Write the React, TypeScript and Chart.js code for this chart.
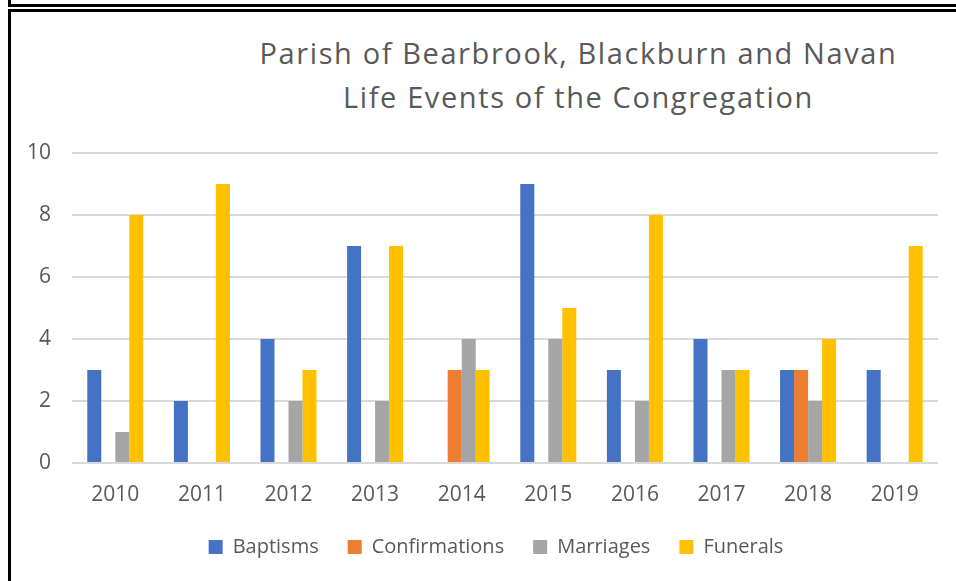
import React, { useEffect, useRef } from "react";
import { Chart, registerables } from "chart.js";

Chart.register(...registerables);

const categories = ["2010", "2011", "2012", "2013", "2014", "2015", "2016", "2017", "2018", "2019"];
const baptisms = [3, 2, 4, 7, null, 9, 3, 4, 3, 3];
const confirmations = [null, null, null, null, 3, null, null, null, 3, null];
const marriages = [1, null, 2, 2, 4, 4, 2, 3, 2, null];
const funerals = [8, 9, 3, 7, 3, 5, 8, 3, 4, 7];
const seriesNames = ["Baptisms", "Confirmations", "Marriages", "Funerals"];
const seriesColors = ["#4472C4", "#ED7D31", "#A5A5A5", "#FFC000"];
const titleLines = ["Parish of Bearbrook, Blackburn and Navan", "Life Events of the Congregation"];
const yMin = 0;
const yMax = 10;
const yStep = 2;

const TEXT = "#595959";
const FONT = "'Open Sans', 'DejaVu Sans', sans-serif";

const legendShift = {
  id: "legendShift",
  afterLayout(chart: any) {
    const l = chart.legend;
    if (l) {
      l.left += 27;
      l.right += 27;
    }
  },
};

export default function App() {
  const canvasRef = useRef<HTMLCanvasElement | null>(null);

  useEffect(() => {
    if (!canvasRef.current) return;
    const values = [baptisms, confirmations, marriages, funerals];
    const chart = new Chart(canvasRef.current, {
      type: "bar",
      data: {
        labels: categories,
        datasets: seriesNames.map((name, i) => ({
          label: name,
          data: values[i],
          backgroundColor: seriesColors[i],
          borderWidth: 0,
          categoryPercentage: 0.647,
          barPercentage: 1,
        })),
      },
      plugins: [legendShift],
      options: {
        responsive: false,
        animation: false,
        events: [],
        layout: { padding: { left: 0, right: 18, top: 153, bottom: 14 } },
        plugins: {
          title: { display: false },
          tooltip: { enabled: false },
          legend: {
            position: "bottom",
            labels: {
              boxWidth: 14,
              boxHeight: 14,
              padding: 29,
              color: TEXT,
              font: { family: FONT, size: 20 },
            },
          },
        },
        scales: {
          x: {
            grid: { display: false, drawTicks: false },
            border: { display: false },
            ticks: { color: TEXT, font: { family: FONT, size: 21 }, padding: 19, maxRotation: 0 },
            afterFit: (s: any) => {
              s.height = 45;
            },
          },
          y: {
            min: yMin,
            max: yMax,
            ticks: { stepSize: yStep, color: TEXT, font: { family: FONT, size: 21 }, padding: 21 },
            grid: { color: "#D9D9D9", lineWidth: 2, drawTicks: false },
            border: { display: false },
            afterFit: (s: any) => {
              s.width = 72;
            },
          },
        },
      },
    });
    return () => chart.destroy();
  }, []);

  return (
    <div
      style={{
        position: "fixed",
        left: 0,
        top: 0,
        width: 956,
        height: 581,
        background: "#fff",
        overflow: "hidden",
      }}
    >
      <div
        style={{
          position: "absolute",
          left: 8,
          top: -10,
          width: 1000,
          height: 17,
          boxSizing: "border-box",
          border: "3px solid #000",
        }}
      />
      <div
        style={{
          position: "absolute",
          left: 8,
          top: 9,
          width: 1000,
          height: 700,
          boxSizing: "border-box",
          border: "3px solid #000",
        }}
      />
      <div
        style={{
          position: "absolute",
          left: 200,
          top: 31,
          width: 757,
          textAlign: "center",
          fontFamily: FONT,
          fontSize: 29,
          letterSpacing: "1.6px",
          lineHeight: "44px",
          color: TEXT,
          whiteSpace: "nowrap",
        }}
      >
        {titleLines.map((t) => (
          <div key={t}>{t}</div>
        ))}
      </div>
      <canvas
        ref={canvasRef}
        width={956}
        height={581}
        style={{ position: "absolute", left: 0, top: 0, width: 956, height: 581 }}
      />
    </div>
  );
}
